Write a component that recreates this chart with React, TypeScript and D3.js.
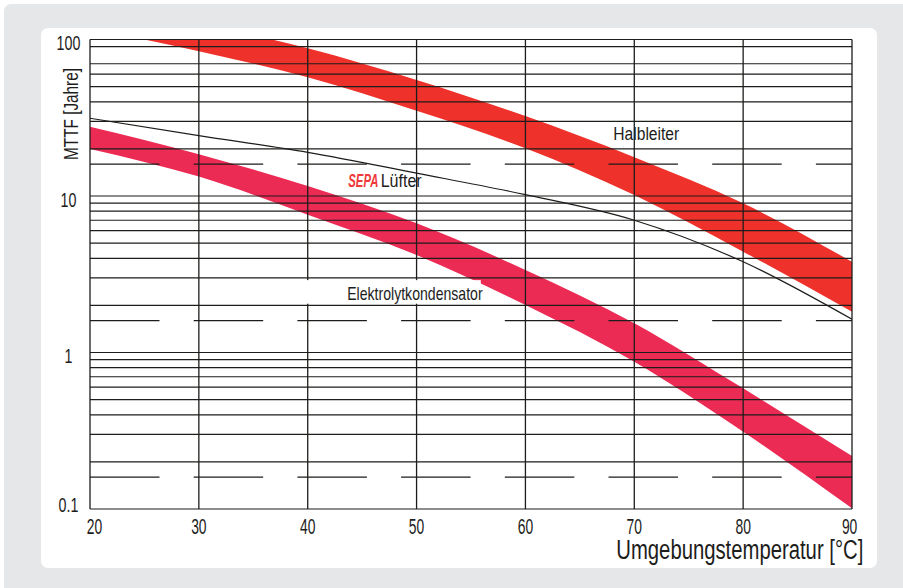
import React from 'react';
import * as d3 from 'd3';

// ---- data ----
const temperatures = [20, 30, 40, 50, 60, 70, 80, 90];
const halbleiterUpper = [175, 127, 87.8, 55.1, 32.4, 17.7, 8.98, 3.8];
const halbleiterLower = [118, 84, 57.3, 35, 20.2, 10.15, 4.41, 1.82];
const elkoUpper = [27.7, 18.5, 11.6, 6.69, 3.37, 1.54, 0.59, 0.218];
const elkoLower = [20, 13.3, 7.6, 4.2, 2.01, 0.873, 0.312, 0.101];
const luefter = [31.4, 24.3, 19.0, 14.0, 10.2, 7.0, 3.8, 1.63];

const xTicks = [20, 30, 40, 50, 60, 70, 80, 90];
const yTicks = [0.1, 1, 10, 100];
const yTickLabels = ['0.1', '1', '10', '100'];
const decades = [0.1, 1, 10];
const minorMultipliers = [2, 3, 4, 5, 6, 7, 8, 9];
const omittedGridValues = [80];
const dashedMultiplier = 1.6;

const xTitle = 'Umgebungstemperatur [°C]';
const yTitle = 'MTTF [Jahre]';

const FONT = "'Liberation Sans', Arial, Helvetica, sans-serif";
const INK = '#1d1d1b';

export default function App() {
  const W = 903;
  const H = 588;
  const x = d3.scaleLinear().domain([20, 90]).range([90, 852]);
  const y = d3.scaleLog().domain([0.1, 100]).range([509, 39.5]);

  const band = (lo: number[], hi: number[]) =>
    d3
      .area<number>()
      .x((d) => x(d))
      .y0((_, i) => y(lo[i]))
      .y1((_, i) => y(hi[i]))
      .curve(d3.curveMonotoneX)(temperatures) || '';

  const line =
    d3
      .line<number>()
      .x((d) => x(d))
      .y((_, i) => y(luefter[i]))
      .curve(d3.curveMonotoneX)(temperatures) || '';

  const minorValues: number[] = [];
  decades.forEach((d) =>
    minorMultipliers.forEach((m) => {
      const v = d * m;
      if (!omittedGridValues.some((o) => Math.abs(o - v) < 1e-6)) minorValues.push(v);
    })
  );
  const dashedValues = decades.map((d) => d * dashedMultiplier);

  const [x0, x1] = x.range();
  const [yb, yt] = y.range();

  return (
    <svg
      width={W}
      height={H}
      style={{ position: 'absolute', left: 0, top: 0 }}
      fontFamily={FONT}
    >
      <defs>
        <clipPath id="plotClip">
          <rect x={x0} y={yt} width={x1 - x0} height={yb - yt} />
        </clipPath>
      </defs>
      <rect x={0} y={0} width={W} height={H} fill="#ffffff" />
      <rect x={4} y={4} width={W + 10} height={H + 10} rx={7} fill="#e6e7e8" />
      <rect x={41} y={28} width={836} height={540} rx={7} fill="#ffffff" />

      <g clipPath="url(#plotClip)">
        <path d={band(halbleiterLower, halbleiterUpper)} fill="#ee312b" />
        <path d={band(elkoLower, elkoUpper)} fill="#ec2b55" />
      </g>

      {/* horizontal grid */}
      {minorValues.concat(yTicks).map((v, i) => (
        <line key={'h' + i} x1={x0} x2={x1} y1={y(v)} y2={y(v)} stroke={INK} strokeWidth={1.2} />
      ))}
      {dashedValues.map((v, i) => (
        <line
          key={'dh' + i}
          x1={x0}
          x2={x1}
          y1={y(v)}
          y2={y(v)}
          stroke={INK}
          strokeWidth={1.2}
          strokeDasharray="69.5 34.2"
        />
      ))}
      {/* vertical grid */}
      {xTicks.map((t, i) => (
        <line key={'v' + i} x1={x(t)} x2={x(t)} y1={yt} y2={yb} stroke={INK} strokeWidth={1.3} />
      ))}

      {/* label knock-outs */}
      <rect x={x(39.0)} y={y(2.9)} width={x(55.9) - x(39.0)} height={y(2.05) - y(2.9)} fill="#ffffff" />
      <rect x={x(42.7)} y={y(15.2)} width={x(49.6) - x(42.7)} height={y(10.65) - y(15.2)} fill="#ffffff" />

      <g clipPath="url(#plotClip)">
        <path d={line} fill="none" stroke={INK} strokeWidth={1.2} />
      </g>

      {/* y tick labels */}
      {yTicks.map((v, i) => (
        <text
          key={'yl' + i}
          transform={`translate(68.5,${Math.min(y(v) + 10.5, 511.5)}) scale(0.68,1)`}
          textAnchor="middle"
          fontSize={21}
          fill={INK}
        >
          {yTickLabels[i]}
        </text>
      ))}

      {/* x tick labels */}
      {xTicks.map((t, i) => {
        const first = i === 0;
        const last = i === xTicks.length - 1;
        const px = first ? x(t) - 3.3 : last ? x(t) + 5.3 : x(t);
        return (
          <text
            key={'xl' + i}
            transform={`translate(${px},534) scale(0.63,1)`}
            textAnchor={first ? 'start' : last ? 'end' : 'middle'}
            fontSize={22}
            fill={INK}
          >
            {t}
          </text>
        );
      })}

      {/* axis titles */}
      <text
        x={863.3}
        y={558.5}
        textAnchor="end"
        fontSize={27}
        textLength={247}
        lengthAdjust="spacingAndGlyphs"
        fill={INK}
      >
        {xTitle}
      </text>
      <text
        transform="translate(77.5,114) rotate(-90)"
        textAnchor="middle"
        fontSize={19.5}
        textLength={92}
        lengthAdjust="spacingAndGlyphs"
        fill={INK}
      >
        {yTitle}
      </text>

      {/* series labels */}
      <text
        x={x(68.07)}
        y={y(22.8)}
        fontSize={18}
        textLength={66}
        lengthAdjust="spacingAndGlyphs"
        fill={INK}
      >
        Halbleiter
      </text>
      <text
        x={x(43.73)}
        y={y(11.5)}
        fontSize={18.5}
        fontWeight="bold"
        fontStyle="italic"
        textLength={30}
        lengthAdjust="spacingAndGlyphs"
        fill="#ee3a3a"
      >
        SEPA
      </text>
      <text
        x={x(46.7)}
        y={y(11.5)}
        fontSize={18.5}
        textLength={41}
        lengthAdjust="spacingAndGlyphs"
        fill={INK}
      >
        Lüfter
      </text>
      <text
        x={x(43.63)}
        y={y(2.18)}
        fontSize={19}
        textLength={135.4}
        lengthAdjust="spacingAndGlyphs"
        fill={INK}
      >
        Elektrolytkondensator
      </text>
    </svg>
  );
}
